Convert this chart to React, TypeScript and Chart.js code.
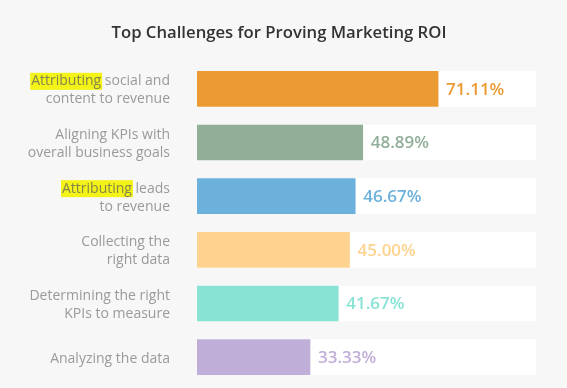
import React, { useEffect, useRef } from "react";
import { Chart, registerables } from "chart.js";

Chart.register(...registerables);

const titleText = "Top Challenges for Proving Marketing ROI";
const categories: string[][] = [
  ["Attributing social and", "content to revenue"],
  ["Aligning KPIs with", "overall business goals"],
  ["Attributing leads", "to revenue"],
  ["Collecting the", "right data"],
  ["Determining the right", "KPIs to measure"],
  ["Analyzing the data"],
];
const highlightWords = ["Attributing", "", "Attributing", "", "", ""];
const values = [71.11, 48.89, 46.67, 45.0, 41.67, 33.33];
const trackValues = [100, 100, 100, 100, 100, 100];
const barColors = ["#EC9A33", "#90AE98", "#6BB1DB", "#FED38F", "#89E3D5", "#BFAED8"];
const valueLabels = ["71.11%", "48.89%", "46.67%", "45.00%", "41.67%", "33.33%"];

const FONT = "'Open Sans', 'Lato', sans-serif";

const labelsPlugin = {
  id: "customLabels",
  afterDraw(chart: any) {
    const ctx = chart.ctx as CanvasRenderingContext2D;
    const yScale = chart.scales.y;
    const area = chart.chartArea;
    ctx.save();
    // title
    ctx.fillStyle = "#333333";
    ctx.font = `600 16.7px ${FONT}`;
    ctx.textAlign = "center";
    ctx.textBaseline = "middle";
    ctx.fillText(titleText, 279, 33);

    // category labels
    const rightX = area.left - 27;
    const lineH = 18;
    ctx.font = `400 14px ${FONT}`;
    categories.forEach((lines, i) => {
      const cy = yScale.getPixelForValue(i) + 1.5;
      const startY = cy - ((lines.length - 1) * lineH) / 2;
      lines.forEach((line, j) => {
        const y = startY + j * lineH;
        const hw = highlightWords[i];
        ctx.textAlign = "right";
        ctx.textBaseline = "middle";
        if (hw && line.startsWith(hw)) {
          const full = ctx.measureText(line).width;
          const wW = ctx.measureText(hw).width;
          const x0 = rightX - full;
          ctx.fillStyle = "#F3F317";
          ctx.fillRect(x0 - 1, y - 8.5, wW + 2, 17);
          ctx.fillStyle = "#84844e";
          ctx.textAlign = "left";
          ctx.fillText(hw, x0, y);
          ctx.fillStyle = "#9a9a9a";
          ctx.textAlign = "right";
          ctx.fillText(line.slice(hw.length), rightX, y);
        } else {
          ctx.fillStyle = "#9a9a9a";
          ctx.fillText(line, rightX, y);
        }
      });
    });

    // value labels
    const meta = chart.getDatasetMeta(1);
    ctx.font = `600 17px ${FONT}`;
    ctx.textAlign = "left";
    ctx.textBaseline = "middle";
    meta.data.forEach((bar: any, i: number) => {
      ctx.fillStyle = barColors[i];
      ctx.fillText(valueLabels[i], bar.x + 8, bar.y + 1);
    });
    ctx.restore();
  },
};

export default function App() {
  const ref = useRef<HTMLCanvasElement>(null);
  useEffect(() => {
    if (!ref.current) return;
    const chart = new Chart(ref.current, {
      type: "bar",
      data: {
        labels: categories.map((c) => c.join(" ")),
        datasets: [
          {
            label: "track",
            data: trackValues,
            backgroundColor: "#ffffff",
            borderWidth: 0,
            grouped: false,
            order: 2,
            barThickness: 35,
          } as any,
          {
            label: "value",
            data: values,
            backgroundColor: barColors,
            borderWidth: 0,
            grouped: false,
            order: 1,
            barThickness: 35,
          } as any,
        ],
      },
      options: {
        indexAxis: "y",
        animation: false,
        responsive: false,
        maintainAspectRatio: false,
        events: [],
        layout: { padding: { left: 197, right: 31, top: 62, bottom: 4 } },
        plugins: {
          legend: { display: false },
          title: { display: false },
          tooltip: { enabled: false },
        },
        scales: {
          x: { display: false, min: 0, max: 100, grid: { display: false } },
          y: { display: false, grid: { display: false } },
        },
      },
      plugins: [labelsPlugin],
    });
    return () => chart.destroy();
  }, []);
  return (
    <div
      style={{
        position: "fixed",
        left: 0,
        top: 0,
        width: 567,
        height: 388,
        background: "#F7F7F7",
      }}
    >
      <canvas ref={ref} width={567} height={388} style={{ display: "block", width: 567, height: 388 }} />
    </div>
  );
}
